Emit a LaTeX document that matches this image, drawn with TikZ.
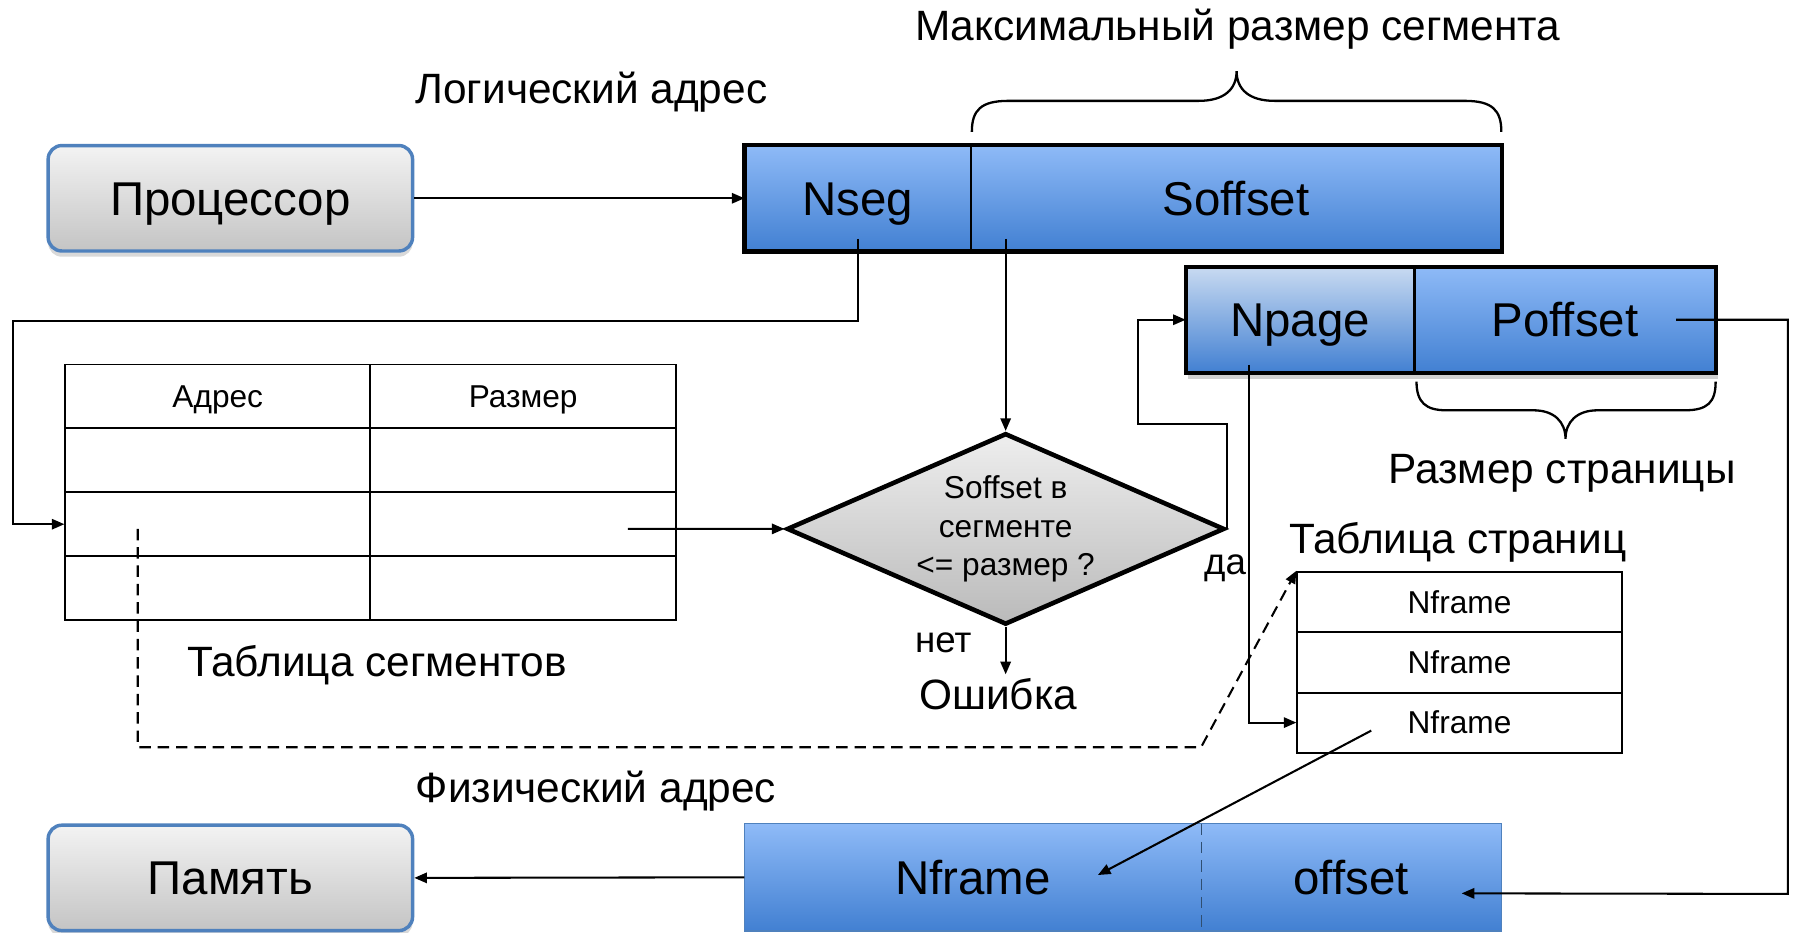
\documentclass[tikz,border=0pt]{standalone}
\usepackage{fontspec}
\setmainfont{Liberation Sans}
\usetikzlibrary{arrows.meta,shapes.geometric,shadows,calc}

\definecolor{devline}{RGB}{79,129,189}
\definecolor{grayTop}{RGB}{243,243,243}
\definecolor{grayBot}{RGB}{196,196,196}
\definecolor{blueTop}{RGB}{142,186,247}
\definecolor{blueBot}{RGB}{66,128,210}
\definecolor{paleTop}{RGB}{200,218,241}
\definecolor{diaTop}{RGB}{238,238,238}
\definecolor{diaBot}{RGB}{186,186,186}

\tikzset{
  big/.style={font=\fontsize{20.7}{24}\selectfont, text height=14.8pt, text depth=0pt},
  mid/.style={font=\fontsize{18.5}{22}\selectfont, text height=13.2pt, text depth=0pt},
  small/.style={font=\fontsize{13.8}{16.75}\selectfont, text height=9.9pt, text depth=0pt},
  devbox/.style={rounded corners=6pt, draw=devline, line width=1.5pt,
    top color=grayTop, bottom color=grayBot,
    minimum width=159pt, minimum height=46pt, big,
    drop shadow={shadow xshift=0pt, shadow yshift=-2.5pt, opacity=0.3}},
  field/.style={draw=none, top color=blueTop, bottom color=blueBot,
    minimum height=46pt, big, inner sep=0pt},
  cell/.style={draw=black, line width=0.8pt, small, inner sep=0pt},
  arr/.style={-{Triangle[length=5.5pt,width=4.5pt]}, line width=0.9pt},
  brace/.style={line width=1pt},
  label/.style={mid, inner sep=1pt},
  answer/.style={font=\fontsize{16}{18}\selectfont, text height=11.5pt, text depth=0pt},
}

\begin{document}
\begin{tikzpicture}[x=0.5pt,y=-0.5pt]
\useasboundingbox (0,0) rectangle (1568,814);

% processor and memory
\node[devbox] (proc) at (201,173) {Процессор};
\node[devbox] (mem) at (201,766) {Память};

% logical address: segment number and offset
\node[field, minimum width=98.5pt] (nseg) at (748.5,173) {Nseg};
\node[field, minimum width=231.5pt] (soff) at (1078.5,173) {Soffset};
\draw[line width=1.8pt] (nseg.north west) rectangle (soff.south east);
\draw[line width=1.1pt] (nseg.north east) -- (nseg.south east);

% page number and page offset
\fill[black, opacity=0.18] ([xshift=1pt,yshift=-3pt]1035,233) rectangle ([xshift=1pt,yshift=-3pt]1497,325);
\node[field, top color=paleTop, minimum width=99.5pt] (npage) at (1134.5,279) {Npage};
\node[field, minimum width=131.5pt] (poff) at (1365.5,279) {Poffset};
\draw[line width=1.8pt] (npage.north west) rectangle (poff.south east);
\draw[line width=1.1pt] (npage.north east) -- (npage.south east);

% physical address
\node[field, minimum width=199pt, minimum height=46.5pt] (nfr) at (849,765.5) {Nframe};
\node[field, minimum width=131pt, minimum height=46.5pt] (offs) at (1179,765.5) {offset};
\draw[devline, line width=0.6pt] (nfr.north west) rectangle (offs.south east);
\draw[devline!60!black, line width=0.6pt, dash pattern=on 5pt off 3pt] (nfr.north east) -- (nfr.south east);

% braces
\draw[brace] (848,115) .. controls (848,96) and (856,88) .. (880,88) -- (1046,88)
  .. controls (1068,88) and (1079,78) .. (1079,62)
  .. controls (1079,78) and (1090,88) .. (1112,88) -- (1278,88)
  .. controls (1302,88) and (1310,96) .. (1310,115);
\draw[brace] (1236,333) .. controls (1236,351) and (1244,358) .. (1262,358) -- (1338,358)
  .. controls (1356,358) and (1366,368) .. (1366,383)
  .. controls (1366,368) and (1376,358) .. (1394,358) -- (1470,358)
  .. controls (1490,358) and (1497,351) .. (1497,333);

% segment table
\foreach \r/\y in {1/345.9,2/401.6,3/457.4,4/513.1}{
  \node[cell, minimum width=133pt, minimum height=27.875pt] (s\r1) at (190,\y) {};
  \node[cell, minimum width=133.5pt, minimum height=27.875pt] (s\r2) at (456.5,\y) {};
}
\node[small] at (s11) {Адрес};
\node[small] at (s12) {Размер};

% page table
\foreach \r/\y in {1/525,2/578,3/630.5}{
  \node[cell, minimum width=141.5pt, minimum height=26.17pt] (p\r) at (1273.5,\y) {Nframe};
}

% check on the segment size
\node[diamond, draw=black, line width=2pt, top color=diaTop, bottom color=diaBot,
  minimum width=191pt, minimum height=83.5pt, inner sep=0pt, shape aspect=2.3,
  align=center, font=\fontsize{13.8}{16.75}\selectfont] (dia) at (877.5,461.5) {Soffset в\\сегменте\\<= размер ?};

% labels
\node[label] (maxseg) at (1080,22) {Максимальный размер сегмента};
\node[label] (logaddr) at (516,77) {Логический адрес};
\node[label] (pgsize) at (1363,409) {Размер страницы};
\node[label] (segtab) at (329,577) {Таблица сегментов};
\node[label] (pagetab) at (1272,470) {Таблица страниц};
\node[label] (physaddr) at (520,687) {Физический адрес};
\node[label, inner sep=2pt] (err) at (871,606) {Ошибка};
\node[answer] (yes) at (1069,490) {да};
\node[answer] (no) at (823,558) {нет};

% connectors
\draw[arr] (proc.east) -- (nseg.west);
\draw[arr] ([yshift=5.5pt]nseg.south) |- (11,280) |- (s31.west);
\draw[arr] ([yshift=5.5pt]dia.north |- soff.south) -- (dia.north);
\draw[arr] ($(s32.east)+(-43,4)$) -- (dia.west);
\draw[arr] (dia.east) |- (993,370) |- (npage.west);
\draw[arr] ($(npage.south west)+(55,-7)$) |- (p3.west);
\draw[arr] ($(poff.east)+(-35,0)$) -| (1560,780) -- ($(offs.east)+(-35,14)$);
\draw[arr] ($(p3.center)+(-77,7)$) -- ($(nfr.center)+(109,-2)$);
\draw[arr, dash pattern=on 5pt off 3pt] ($(s31.west)+(64,4)$) |- (1048,652) -- (p1.north west);
\draw[arr] (nfr.west) -- (mem.east);
\draw[arr] (dia.south) -- (dia.south |- err.north);
\end{tikzpicture}
\end{document}
